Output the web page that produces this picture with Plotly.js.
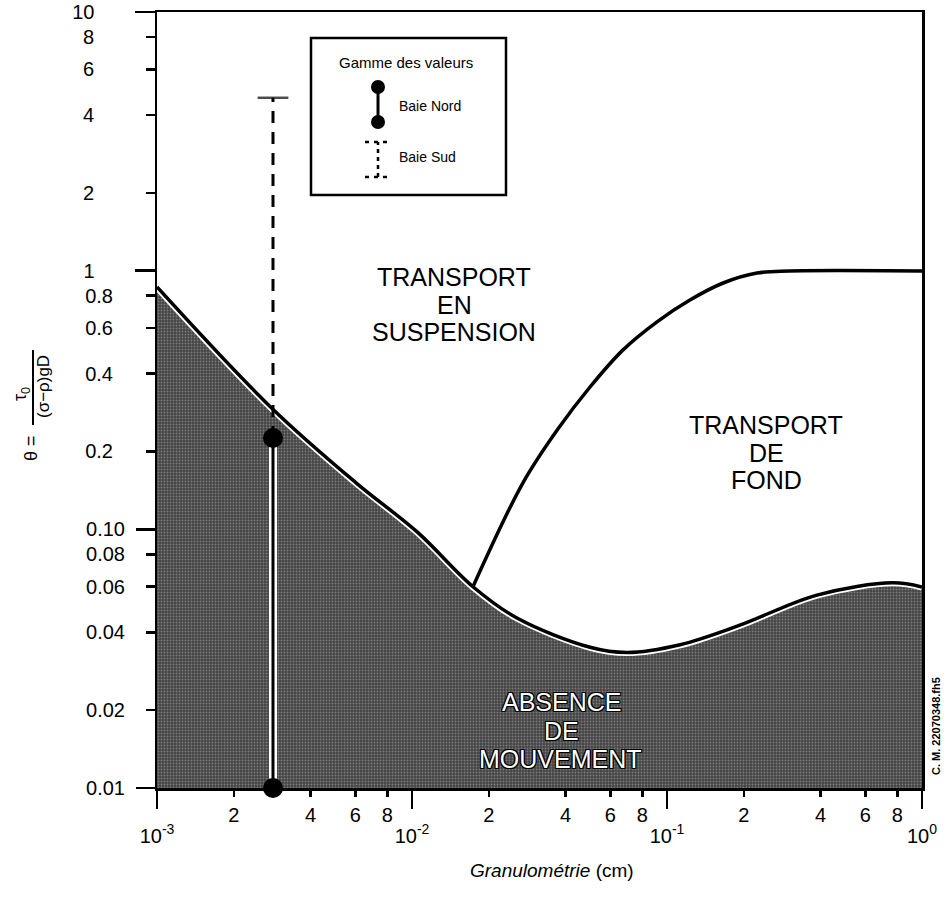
<!DOCTYPE html>
<html><head><meta charset="utf-8">
<script src="https://cdn.plot.ly/plotly-3.0.1.min.js"></script>
<style>body{margin:0;background:#fff}</style>
</head><body><div id="chart" style="width:951px;height:905px"></div>
<script>
// ---- data ----
const thresholdD     = [0.001, 0.00282, 0.0060, 0.0105, 0.01734, 0.0258, 0.0499, 0.0697, 0.1125, 0.193, 0.387, 0.769, 1.0];
const thresholdTheta = [0.865, 0.294, 0.152, 0.0975, 0.0600, 0.0454, 0.0350, 0.0334, 0.0358, 0.0426, 0.0557, 0.0621, 0.0598];
const suspensionD     = [0.01734, 0.0272, 0.0371, 0.0499, 0.0671, 0.0914, 0.123, 0.166, 0.2254, 0.303, 1.0];
const suspensionTheta = [0.0600, 0.151, 0.242, 0.355, 0.493, 0.634, 0.770, 0.896, 0.979, 0.997, 0.997];
const sampleD = [0.00285, 0.00285];
const baieNordRange = [0.01, 0.2254];
const baieSudRange  = [0.2254, 4.66];
const axisFloorTheta = [0.01, 0.01];
const floorD = [0.001, 1.0];

const xMajorVals = [0.001, 0.01, 0.1, 1];
const xMajorText = ['10<sup>-3</sup>', '10<sup>-2</sup>', '10<sup>-1</sup>', '10<sup>0</sup>'];
const xMinorVals = [0.002, 0.004, 0.006, 0.008, 0.02, 0.04, 0.06, 0.08, 0.2, 0.4, 0.6, 0.8];
const xMinorText = ['2','4','6','8','2','4','6','8','2','4','6','8'];
const yMajorTopVals = [10, 1];          const yMajorTopText = ['10', '1'];
const yMajorLowVals = [0.1, 0.01];      const yMajorLowText = ['0.10', '0.01'];
const yMinorTopVals = [8, 6, 4, 2];     const yMinorTopText = ['8', '6', '4', '2'];
const yMinorMidVals = [0.8, 0.6, 0.4, 0.2]; const yMinorMidText = ['0.8', '0.6', '0.4', '0.2'];
const yMinorLowVals = [0.08, 0.06, 0.04, 0.02]; const yMinorLowText = ['0.08', '0.06', '0.04', '0.02'];

// ---- layout helpers ----
const L = 157, T = 12, W = 765, H = 776;
const px = v => (v - L) / W;
const py = v => 1 - (v - T) / H;
const FONT = 'Liberation Sans, Arial, Helvetica, sans-serif';
const xRange = [-3, 0], yRange = [-2, 1];
const OUTLINE = '1px 1px 0 #000, -1px -1px 0 #000, 1px -1px 0 #000, -1px 1px 0 #000, 0 1px 0 #000, 0 -1px 0 #000, 1px 0 0 #000, -1px 0 0 #000';

const traces = [
  {x: floorD, y: axisFloorTheta, mode: 'lines', line: {width: 0, color: 'rgba(0,0,0,0)'}, hoverinfo: 'skip'},
  {x: thresholdD, y: thresholdTheta, mode: 'lines', fill: 'tonexty', fillcolor: '#484848',
   fillpattern: {shape: '.', bgcolor: '#444444', fgcolor: '#7c7c7c', size: 3, solidity: 0.3},
   line: {width: 0, shape: 'spline', smoothing: 1}, hoverinfo: 'skip'},
  {x: thresholdD, y: thresholdTheta, mode: 'lines', line: {color: '#fff', width: 7, shape: 'spline', smoothing: 1}, hoverinfo: 'skip'},
  {x: sampleD, y: baieSudRange, mode: 'lines+markers', line: {color: '#000', width: 3, dash: '12px,9px'},
   marker: {symbol: 'line-ew-open', size: [0, 22], line: {color: '#000', width: 2.5}}, cliponaxis: false},
  {x: thresholdD, y: thresholdTheta, mode: 'lines', line: {color: '#000', width: 3.5, shape: 'spline', smoothing: 1}},
  {x: suspensionD, y: suspensionTheta, mode: 'lines', line: {color: '#000', width: 3.5, shape: 'spline', smoothing: 1}},
  {x: sampleD, y: baieNordRange, mode: 'lines', line: {color: '#fff', width: 8}, hoverinfo: 'skip', cliponaxis: false},
  {x: sampleD, y: baieNordRange, mode: 'lines+markers', line: {color: '#000', width: 3},
   marker: {size: 20, color: '#000'}, cliponaxis: false}
];
traces.forEach(t => { t.xaxis = 'x'; t.yaxis = 'y'; t.showlegend = false; });

// invisible carriers so that the overlaid tick axes are drawn
const carriers = [['x2', 'y'], ['x', 'y2'], ['x', 'y3'], ['x', 'y4'], ['x', 'y5']].map(([xa, ya]) => ({
  x: floorD, y: axisFloorTheta, xaxis: xa, yaxis: ya, mode: 'markers', marker: {opacity: 0, size: 1},
  hoverinfo: 'skip', showlegend: false
}));

const baseAxis = {type: 'log', showgrid: false, zeroline: false, ticks: 'outside', tickcolor: '#000',
  tickwidth: 2.5, tickfont: {family: FONT, size: 20, color: '#000'}, fixedrange: true};

function yOverlay(vals, text, len, standoff) {
  return Object.assign({}, baseAxis, {overlaying: 'y', side: 'left', anchor: 'x', range: yRange,
    tickmode: 'array', tickvals: vals, ticktext: text, ticklen: len, ticklabelstandoff: standoff, showline: false});
}

function note(text, x, y, size, extra) {
  return Object.assign({text: text, xref: 'paper', yref: 'paper', x: px(x), y: py(y), xanchor: 'center', yanchor: 'middle',
    showarrow: false, font: {family: FONT, size: size, color: '#000'}}, extra || {});
}

const layout = {
  width: 951, height: 905,
  margin: {l: L, r: 951 - L - W, t: T, b: 905 - T - H},
  paper_bgcolor: '#fff', plot_bgcolor: '#fff',
  showlegend: false,
  font: {family: FONT, color: '#000'},
  xaxis: Object.assign({}, baseAxis, {range: xRange, tickmode: 'array', tickvals: xMajorVals, ticktext: xMajorText,
    ticklen: 18, ticklabelstandoff: 10, showline: true, mirror: true, linecolor: '#000', linewidth: 2.5}),
  xaxis2: Object.assign({}, baseAxis, {overlaying: 'x', side: 'bottom', anchor: 'y', range: xRange, tickmode: 'array',
    tickvals: xMinorVals, ticktext: xMinorText, ticklen: 8, ticklabelstandoff: 1, showline: false}),
  yaxis: Object.assign({}, baseAxis, {range: yRange, tickmode: 'array', tickvals: yMajorTopVals, ticktext: yMajorTopText,
    ticklen: 20, ticklabelstandoff: 36, showline: true, mirror: true, linecolor: '#000', linewidth: 2.5}),
  yaxis2: yOverlay(yMajorLowVals, yMajorLowText, 20, 7),
  yaxis3: yOverlay(yMinorTopVals, yMinorTopText, 10, 48),
  yaxis4: yOverlay(yMinorMidVals, yMinorMidText, 10, 29),
  yaxis5: yOverlay(yMinorLowVals, yMinorLowText, 10, 17),
  shapes: [
    // legend box
    {type: 'rect', xref: 'paper', yref: 'paper', x0: px(311), x1: px(506), y0: py(195), y1: py(38), line: {color: '#000', width: 2.5}, fillcolor: '#fff'},
    {type: 'line', xref: 'paper', yref: 'paper', x0: px(378), x1: px(378), y0: py(122), y1: py(87), line: {color: '#000', width: 3}},
    {type: 'circle', xref: 'paper', yref: 'paper', xsizemode: 'pixel', ysizemode: 'pixel', xanchor: px(378), yanchor: py(87), x0: -7, x1: 7, y0: -7, y1: 7, fillcolor: '#000', line: {width: 0}},
    {type: 'circle', xref: 'paper', yref: 'paper', xsizemode: 'pixel', ysizemode: 'pixel', xanchor: px(378), yanchor: py(122), x0: -7, x1: 7, y0: -7, y1: 7, fillcolor: '#000', line: {width: 0}},
    {type: 'line', xref: 'paper', yref: 'paper', x0: px(378), x1: px(378), y0: py(177), y1: py(142), line: {color: '#000', width: 2.5, dash: '4px,4px'}},
    {type: 'line', xref: 'paper', yref: 'paper', x0: px(365), x1: px(391), y0: py(142), y1: py(142), line: {color: '#000', width: 2.5, dash: '4px,5px'}},
    {type: 'line', xref: 'paper', yref: 'paper', x0: px(365), x1: px(391), y0: py(177), y1: py(177), line: {color: '#000', width: 2.5, dash: '4px,5px'}},
    // fraction bar of the y title
    {type: 'line', xref: 'paper', yref: 'paper', x0: px(33), x1: px(33), y0: py(425), y1: py(350), line: {color: '#000', width: 2}}
  ],
  annotations: [
    note('Gamme des valeurs', 406, 63, 15),
    note('Baie Nord', 397, 106, 14, {xanchor: 'left'}),
    note('Baie Sud', 397, 157, 14, {xanchor: 'left'}),

    note('TRANSPORT', 454, 277, 25),
    note('EN', 454, 305, 25),
    note('SUSPENSION', 454, 332, 25),

    note('TRANSPORT', 766, 425, 25),
    note('DE', 766, 453, 25),
    note('FOND', 766, 480, 25),

    note('ABSENCE', 561, 702, 25, {font: {family: FONT, size: 25, color: '#fff', shadow: OUTLINE}}),
    note('DE', 561, 731, 25, {font: {family: FONT, size: 25, color: '#fff', shadow: OUTLINE}}),
    note('MOUVEMENT', 560, 759, 25, {font: {family: FONT, size: 25, color: '#fff', shadow: OUTLINE}}),

    // y-axis title: θ = τ0 / ((σ−ρ)gD), rotated
    note('θ =', 31, 448, 18, {textangle: -90}),
    note('τ<sub>0</sub>', 21, 394, 18, {textangle: -90}),
    note('(σ−ρ)gD', 43, 387, 17, {textangle: -90}),

    // x-axis title
    note('<i>Granulométrie</i> (cm)', 552, 870, 19),

    // file reference
    note('<b>C. M. 22070348.fh5</b>', 936, 726, 11, {textangle: -90})
  ]
};

Plotly.newPlot('chart', traces.concat(carriers), layout, {staticPlot: true});
</script>
</body></html>
